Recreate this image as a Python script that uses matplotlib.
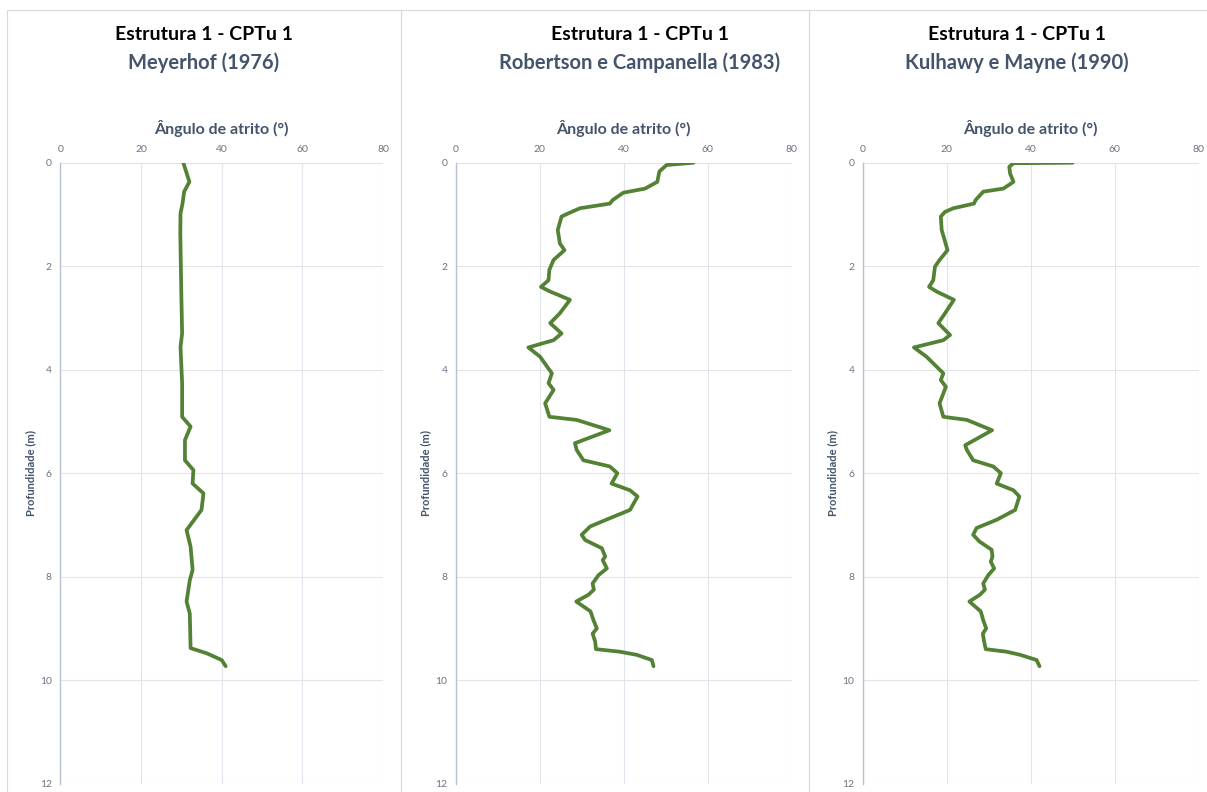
import matplotlib.pyplot as plt
from matplotlib.patches import Rectangle

plt.rcParams['font.family'] = ['Lato', 'DejaVu Sans']

# depth (m) and friction angle (deg) for each method
depth_meyerhof = [0.0, 0.37, 0.56, 0.79, 0.98, 1.37, 2.52, 3.3, 3.56, 4.26, 4.91, 5.1, 5.36,
                  5.75, 5.94, 6.2, 6.39, 6.71, 7.1, 7.42, 7.87, 8.07, 8.48, 8.71, 9.38,
                  9.48, 9.61, 9.73]
phi_meyerhof = [30.5, 32.0, 30.7, 30.3, 29.8, 29.75, 30.0, 30.2, 29.8, 30.2, 30.2, 32.3, 30.9,
                30.9, 33.0, 32.8, 35.5, 35.0, 31.3, 32.3, 32.8, 32.1, 31.3, 32.1, 32.3,
                36.3, 40.0, 41.0]

depth_robertson = [0.0, 0.045, 0.17, 0.37, 0.5, 0.58, 0.72, 0.79, 0.88, 0.95, 1.04, 1.3, 1.56,
                   1.69, 1.88, 2.07, 2.27, 2.4, 2.49, 2.65, 2.91, 3.1, 3.3, 3.43, 3.57, 3.75,
                   4.07, 4.26, 4.39, 4.65, 4.91, 4.97, 5.17, 5.42, 5.55, 5.75, 5.87, 6.0,
                   6.2, 6.33, 6.45, 6.71, 6.87, 7.03, 7.19, 7.29, 7.45, 7.61, 7.68, 7.84,
                   7.97, 8.13, 8.25, 8.35, 8.48, 8.67, 8.84, 9.0, 9.1, 9.25, 9.4, 9.45,
                   9.51, 9.61, 9.73]
phi_robertson = [56.6, 50.2, 48.5, 48.0, 45.1, 39.9, 37.4, 36.7, 29.6, 27.6, 25.2, 24.3, 24.8,
                 25.9, 23.3, 22.3, 22.1, 20.3, 22.5, 27.2, 24.8, 22.5, 25.2, 23.3, 17.3, 20.1,
                 22.9, 22.1, 23.3, 21.3, 22.3, 28.8, 36.6, 28.4, 28.8, 30.4, 36.7, 38.5,
                 37.1, 41.5, 43.3, 41.5, 36.7, 32.0, 30.0, 30.8, 34.8, 35.6, 35.0, 36.0,
                 34.0, 32.6, 32.9, 31.6, 28.7, 32.1, 32.8, 33.6, 32.6, 33.2, 33.4, 39.1,
                 43.1, 46.7, 47.1]

depth_kulhawy = [0.0, 0.01, 0.08, 0.21, 0.37, 0.5, 0.56, 0.72, 0.79, 0.88, 0.95, 1.04, 1.3,
                 1.69, 1.88, 2.01, 2.27, 2.4, 2.49, 2.65, 2.91, 3.1, 3.33, 3.43, 3.57, 3.75,
                 4.07, 4.2, 4.33, 4.65, 4.91, 4.97, 5.17, 5.46, 5.55, 5.75, 5.87, 6.0,
                 6.2, 6.33, 6.45, 6.71, 6.9, 7.06, 7.19, 7.32, 7.48, 7.61, 7.71, 7.84,
                 7.97, 8.13, 8.25, 8.35, 8.48, 8.67, 8.84, 9.0, 9.1, 9.25, 9.4, 9.45,
                 9.51, 9.61, 9.73]
phi_kulhawy = [50.0, 35.9, 34.9, 35.1, 35.9, 33.5, 28.7, 26.9, 26.5, 21.6, 19.6, 18.6, 18.8,
               20.2, 18.3, 17.2, 16.8, 15.8, 17.6, 21.7, 19.6, 18.0, 20.8, 19.2, 12.2, 15.2,
               19.2, 18.6, 19.8, 18.3, 19.2, 24.8, 30.8, 24.4, 24.8, 26.3, 31.1, 32.9,
               31.9, 35.9, 37.3, 36.3, 31.9, 27.1, 26.3, 27.8, 30.7, 30.9, 30.5, 31.3,
               29.9, 28.7, 29.1, 27.9, 25.4, 28.1, 28.7, 29.4, 28.6, 28.9, 29.3, 34.3,
               37.5, 41.4, 42.1]

main_title = 'Estrutura 1 - CPTu 1'
methods = ['Meyerhof (1976)', 'Robertson e Campanella (1983)', 'Kulhawy e Mayne (1990)']
series = [(phi_meyerhof, depth_meyerhof),
          (phi_robertson, depth_robertson),
          (phi_kulhawy, depth_kulhawy)]
x_ticks = [0, 20, 40, 60, 80]
y_ticks = [0, 2, 4, 6, 8, 10, 12]

W, H = 1207, 792
fig = plt.figure(figsize=(W / 100, H / 100), dpi=100)

# pixel layout: chart frame, plot area, title centre
frames = [(7, 401), (401, 809), (809, 1215)]
plot_x = [(60.3, 383.0), (455.7, 791.7), (862.7, 1198.7)]
title_cx = [204, 640, 1017]
plot_top, plot_bot = 162.7, 783.7

line_color = '#548235'
grid_color = '#E1E4EA'
text_blue = '#44546A'
tick_color = '#6B7585'

for (f0, f1) in frames:
    fig.add_artist(Rectangle((f0 / W, -0.1), (f1 - f0) / W, (H - 10) / H + 0.1,
                             transform=fig.transFigure, fill=False,
                             edgecolor='#D9D9D9', linewidth=0.8))

for i, ((phi, depth), name) in enumerate(zip(series, methods)):
    x0, x1 = plot_x[i]
    ax = fig.add_axes([x0 / W, 1 - plot_bot / H, (x1 - x0) / W, (plot_bot - plot_top) / H])
    ax.plot(phi, depth, color=line_color, linewidth=2.7, solid_capstyle='round',
            solid_joinstyle='round')
    ax.set_xlim(0, 80)
    ax.set_ylim(12, 0)
    ax.set_xticks(x_ticks)
    ax.set_yticks(y_ticks)
    ax.xaxis.tick_top()
    ax.xaxis.set_label_position('top')
    ax.grid(True, color=grid_color, linewidth=0.8)
    ax.set_axisbelow(True)
    for s in ['top', 'right', 'bottom']:
        ax.spines[s].set_visible(False)
    ax.spines['left'].set_color('#B8C1D1')
    ax.spines['left'].set_linewidth(1.0)
    ax.tick_params(length=0, labelsize=7.5, labelcolor=tick_color, pad=6)
    ax.set_xlabel('Ângulo de atrito (°)', fontsize=11.5, fontweight='bold',
                  color=text_blue, labelpad=8)
    ax.set_ylabel('Profundidade (m)', fontsize=8, fontweight='bold',
                  color=text_blue, labelpad=3)

    fig.text(title_cx[i] / W, 1 - 35 / H, main_title, ha='center', va='center',
             fontsize=14, fontweight='bold', color='black')
    fig.text(title_cx[i] / W, 1 - 63 / H, name, ha='center', va='center',
             fontsize=14.5, fontweight='bold', color=text_blue)

fig.savefig('out.png', dpi=100, facecolor='white')
